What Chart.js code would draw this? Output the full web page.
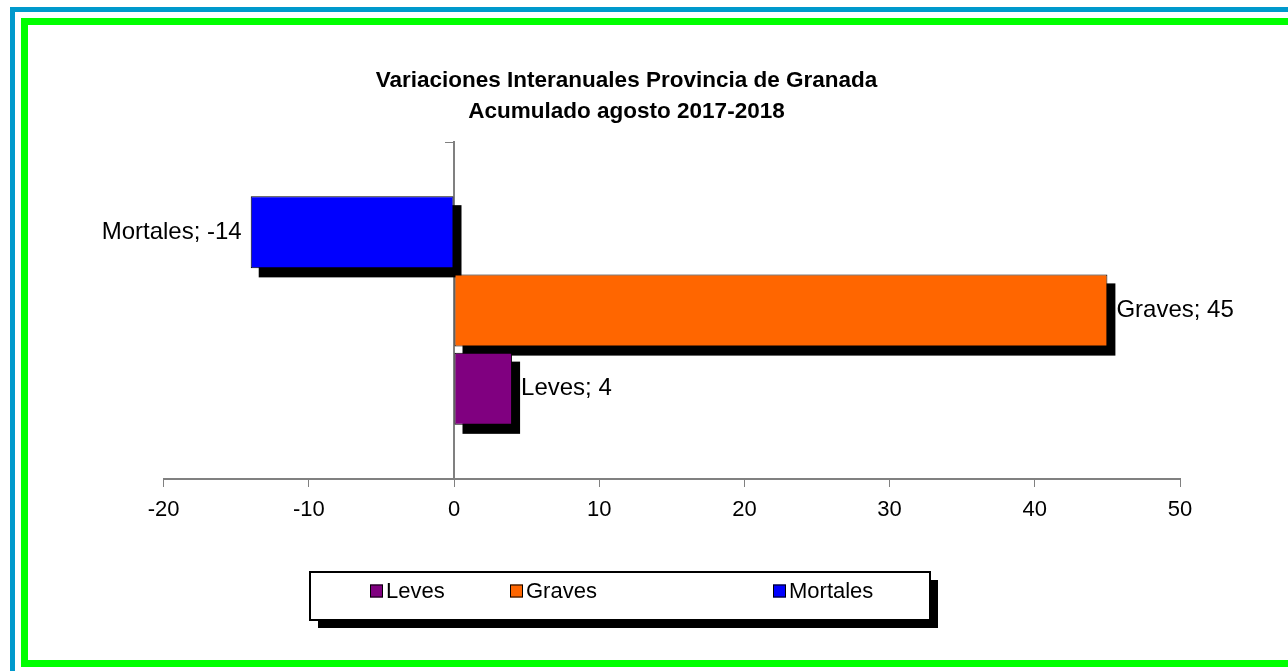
<!DOCTYPE html>
<html>
<head>
<meta charset="utf-8">
<script src="https://cdn.jsdelivr.net/npm/chart.js@4.4.1/dist/chart.umd.min.js"></script>
<style>
  html, body { margin: 0; padding: 0; background: #ffffff; overflow: hidden; }
  #frameBlue { position: absolute; left: 10px; top: 7px; width: 2000px; height: 2000px;
    border-left: 5px solid #0099cc; border-top: 5px solid #0099cc; }
  #frameGreen { position: absolute; left: 21px; top: 18px; width: 2000px; height: 635px;
    border: 7px solid #00ff00; border-right: none; }
  #wrap { position: absolute; left: 0; top: 0; width: 1288px; height: 671px; }
</style>
</head>
<body>
<div id="frameBlue"></div>
<div id="frameGreen"></div>
<div id="wrap"><canvas id="c" width="1288" height="671"></canvas></div>
<script>
// ---- data ----
const categories = [''];
const seriesNames = ['Mortales', 'Graves', 'Leves'];
const mortales = [-14];
const graves = [45];
const leves = [4];
const xTickLabels = ['-20', '-10', '0', '10', '20', '30', '40', '50'];
const titleLines = ['Variaciones Interanuales Provincia de Granada', 'Acumulado agosto 2017-2018'];
const seriesColors = ['#0000ff', '#ff6600', '#800080'];

Chart.defaults.font.family = '"Liberation Sans", Arial, sans-serif';
Chart.defaults.color = '#000000';

const xMin = Number(xTickLabels[0]);
const xMax = Number(xTickLabels[xTickLabels.length - 1]);
const xStep = Number(xTickLabels[1]) - Number(xTickLabels[0]);

const shadowPlugin = {
  id: 'barShadow',
  beforeDatasetsDraw(chart) {
    const ctx = chart.ctx;
    ctx.save();
    ctx.fillStyle = '#000000';
    chart.data.datasets.forEach((ds, i) => {
      const meta = chart.getDatasetMeta(i);
      meta.data.forEach(el => {
        const p = el.getProps(['x', 'y', 'base', 'height'], true);
        const l = Math.min(p.x, p.base), r = Math.max(p.x, p.base);
        ctx.fillRect(l + 8, p.y - p.height / 2 + 9, r - l, p.height);
      });
    });
    ctx.restore();
  },
  afterDatasetsDraw(chart) {
    const ctx = chart.ctx;
    ctx.save();
    ctx.font = '24px "Liberation Sans", Arial, sans-serif';
    ctx.fillStyle = '#000000';
    ctx.textBaseline = 'middle';
    chart.data.datasets.forEach((ds, i) => {
      const meta = chart.getDatasetMeta(i);
      meta.data.forEach((el, j) => {
        const v = ds.data[j];
        const p = el.getProps(['x', 'y'], true);
        const txt = ds.label + '; ' + v;
        if (v >= 0) { ctx.textAlign = 'left'; ctx.fillText(txt, p.x + 9, p.y); }
        else { ctx.textAlign = 'right'; ctx.fillText(txt, p.x - 9, p.y); }
      });
    });
    ctx.restore();
  }
};

const legendPlugin = {
  id: 'boxLegend',
  afterDraw(chart) {
    const ctx = chart.ctx;
    const ca = chart.chartArea;
    const bx = 310, bw = 620, bh = 48, sh = 8;
    const by = ca.bottom + 93;
    ctx.save();
    ctx.fillStyle = '#000000';
    ctx.fillRect(bx + sh, by + sh, bw, bh);
    ctx.fillStyle = '#ffffff';
    ctx.fillRect(bx, by, bw, bh);
    ctx.strokeStyle = '#000000';
    ctx.lineWidth = 2;
    ctx.strokeRect(bx, by, bw, bh);
    const itemX = [370, 510, 773];
    const cy = by + 19;
    ctx.font = '22px "Liberation Sans", Arial, sans-serif';
    ctx.textBaseline = 'middle';
    ctx.textAlign = 'left';
    const n = chart.data.datasets.length;
    for (let k = 0; k < n; k++) {
      const ds = chart.data.datasets[n - 1 - k];
      const x = itemX[k];
      ctx.fillStyle = ds.backgroundColor;
      ctx.fillRect(x, cy - 6.5, 13, 13);
      ctx.lineWidth = 1;
      ctx.strokeStyle = '#000000';
      ctx.strokeRect(x + 0.5, cy - 6, 12, 12);
      ctx.fillStyle = '#000000';
      ctx.fillText(ds.label, x + 16, cy + 1);
    }
    ctx.restore();
  }
};

const datasets = [
  { label: seriesNames[0], data: mortales, backgroundColor: seriesColors[0] },
  { label: seriesNames[1], data: graves, backgroundColor: seriesColors[1] },
  { label: seriesNames[2], data: leves, backgroundColor: seriesColors[2] }
].map(d => Object.assign(d, { borderColor: '#000000', borderWidth: 1, borderSkipped: false,
  categoryPercentage: 0.6964, barPercentage: 0.923 }));

new Chart(document.getElementById('c'), {
  type: 'bar',
  data: { labels: categories, datasets: datasets },
  plugins: [shadowPlugin, legendPlugin],
  options: {
    indexAxis: 'y',
    responsive: false,
    devicePixelRatio: 1,
    animation: false,
    layout: { padding: { left: 73, right: 108, top: 0, bottom: 137.6 } },
    plugins: {
      legend: { display: false },
      tooltip: { enabled: false },
      title: {
        display: true,
        text: titleLines,
        color: '#000000',
        font: { size: 22.5, weight: 'bold', lineHeight: '31px' },
        padding: { top: 65.5, bottom: 14.5 }
      }
    },
    scales: {
      x: {
        type: 'linear',
        position: 'bottom',
        min: xMin, max: xMax,
        ticks: { stepSize: xStep, color: '#000000', font: { size: 22 }, padding: 10, maxRotation: 0,
          callback: (v) => String(v) },
        grid: { display: true, drawOnChartArea: false, drawTicks: true, tickLength: 8, color: '#808080', lineWidth: 1 },
        border: { display: true, color: '#808080', width: 2 }
      },
      y: {
        type: 'category',
        position: { x: 0 },
        offset: true,
        ticks: { display: false },
        grid: { display: true, drawOnChartArea: false, drawTicks: true, tickLength: 8, color: '#808080', lineWidth: 1, offset: true },
        border: { display: true, color: '#808080', width: 2 }
      },
      pad: {
        type: 'linear',
        position: 'left',
        display: true,
        grid: { display: false },
        border: { display: false },
        ticks: { display: false },
        afterFit: (s) => { s.width = 90.6; }
      }
    }
  }
});
</script>
</body>
</html>
